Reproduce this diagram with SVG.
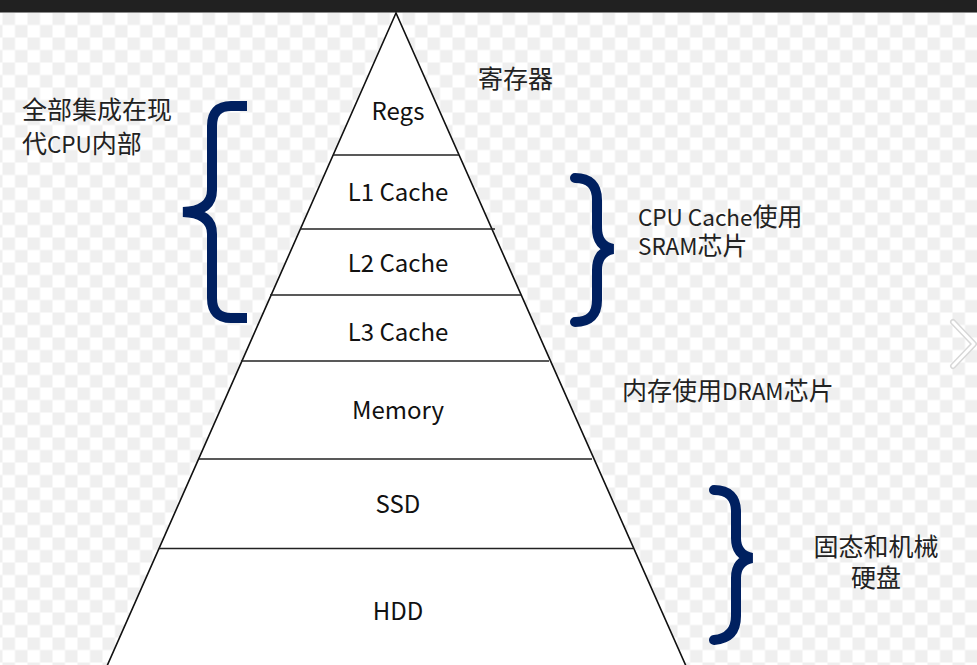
<svg xmlns="http://www.w3.org/2000/svg" width="977" height="665" viewBox="0 0 977 665">
  <defs>
    <pattern id="checker" x="2.5" y="12.5" width="25" height="25" patternUnits="userSpaceOnUse">
      <rect width="25" height="25" fill="#ffffff"/>
      <rect width="12.5" height="12.5" fill="#efefef"/>
      <rect x="12.5" y="12.5" width="12.5" height="12.5" fill="#efefef"/>
    </pattern>
  </defs>
  <style>
    .lbl { font-family: "Noto Sans CJK SC", "Noto Sans", sans-serif; font-size: 24px; fill: #111; text-anchor: middle; }
    .cn { font-family: "Noto Sans CJK SC", "Noto Sans", sans-serif; font-size: 25px; fill: #222; }
    .lat { font-size: 22.5px; }
    .brace { fill: none; stroke: #002060; stroke-width: 10; }
    .tier { stroke: #222; stroke-width: 1.6; }
  </style>
  <rect width="977" height="665" fill="url(#checker)"/>
  <rect width="977" height="12.5" fill="#212121"/>
  <g id="chevron">
    <polyline points="953,322 974,344 953,366" fill="none" stroke="#d8d8d8" stroke-width="6" stroke-linecap="round" stroke-linejoin="round"/>
    <polyline points="953,322 974,344 953,366" fill="none" stroke="#ffffff" stroke-width="3" stroke-linecap="round" stroke-linejoin="round"/>
  </g>
  <g id="pyramid">
    <polygon points="396,13 107,666 686,666" fill="#ffffff" stroke="#111" stroke-width="1.6"/>
  </g>
  <g id="connectors">
    <line class="tier" x1="333" y1="155" x2="459" y2="155"/>
    <line class="tier" x1="300" y1="229" x2="495" y2="229"/>
    <line class="tier" x1="270" y1="295" x2="521" y2="295"/>
    <line class="tier" x1="241" y1="361" x2="549" y2="361"/>
    <line class="tier" x1="199" y1="459" x2="592" y2="459"/>
    <line class="tier" x1="159" y1="548.5" x2="633" y2="548.5" stroke="#333" stroke-width="2"/>
  </g>
  <g id="regs"><text class="lbl" x="398" y="120">Regs</text></g>
  <g id="l1"><text class="lbl" x="398" y="201">L1 Cache</text></g>
  <g id="l2"><text class="lbl" x="398" y="272">L2 Cache</text></g>
  <g id="l3"><text class="lbl" x="398" y="341">L3 Cache</text></g>
  <g id="memory"><text class="lbl" x="398" y="419">Memory</text></g>
  <g id="ssd"><text class="lbl" x="398" y="513">SSD</text></g>
  <g id="hdd"><text class="lbl" x="398" y="620">HDD</text></g>
  <g id="note-regs"><text class="cn" x="478" y="87.5">寄存器</text></g>
  <g id="note-cpu">
    <text class="cn" x="22" y="118.5">全部集成在现</text>
    <text class="cn" x="22" y="152.5">代<tspan class="lat">CPU</tspan>内部</text>
  </g>
  <g id="brace-left">
    <path class="brace" stroke-linejoin="miter" d="M247,106 H231 Q212,106 212,126 V190 Q212,211 183,212 Q212,213 212,234 V298 Q212,318 231,318 H247"/>
  </g>
  <g id="brace-cache">
    <path class="brace" stroke-linecap="round" d="M575,178 Q597,178 597,200 V228 Q597,246 613,249 Q597,252 597,270 V300 Q597,322 575,322"/>
  </g>
  <g id="note-sram">
    <text class="cn" x="638" y="225.5"><tspan class="lat">CPU Cache</tspan>使用</text>
    <text class="cn" x="638" y="254.5"><tspan class="lat">SRAM</tspan>芯片</text>
  </g>
  <g id="note-dram"><text class="cn" x="622" y="399.5">内存使用<tspan class="lat">DRAM</tspan>芯片</text></g>
  <g id="brace-disk">
    <path class="brace" stroke-linecap="round" d="M714,490 Q736,490 736,512 V538 Q736,555 752,558 Q736,561 736,578 V616 Q736,638 714,640"/>
  </g>
  <g id="note-disk">
    <text class="cn" x="876" y="555.5" text-anchor="middle">固态和机械</text>
    <text class="cn" x="876" y="586.5" text-anchor="middle">硬盘</text>
  </g>
</svg>
